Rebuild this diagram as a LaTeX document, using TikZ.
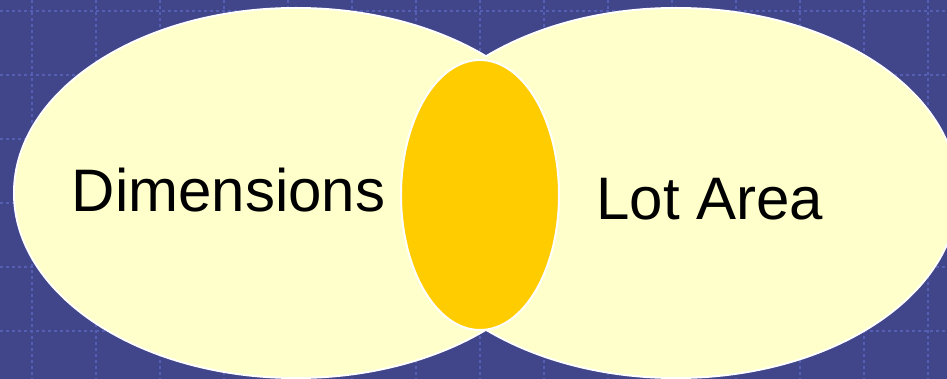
\documentclass[tikz,border=0pt]{standalone}
\usepackage{fontspec}
\setmainfont{Liberation Sans}
\definecolor{slideblue}{RGB}{65,70,138}
\definecolor{gridblue}{RGB}{84,94,178}
\definecolor{paleyellow}{RGB}{255,255,204}
\definecolor{gold}{RGB}{255,204,0}
\tikzset{
  gridline/.style={gridblue, line width=1.5pt, dash pattern=on 3pt off 3pt},
  setrim/.style={white, line width=4pt},
  setlabel/.style={font=\fontsize{60}{72}\selectfont, anchor=base, inner sep=0pt},
}

\begin{document}
\begin{tikzpicture}[x=1pt,y=-1pt]
\useasboundingbox (0,0) rectangle (947,379);
\clip (0,0) rectangle (947,379);
\fill[slideblue] (0,0) rectangle (947,379);

% dotted grid
\foreach \gx in {32,96,...,928}
  \draw[gridline] (\gx,0) -- (\gx,379);
\foreach \gy in {11,75,...,331}
  \draw[gridline] (0,\gy) -- (947,\gy);

% the two sets: white rim first, then fills on top
\draw[setrim] (296,193) ellipse [x radius=281pt, y radius=184pt];
\draw[setrim] (676,193) ellipse [x radius=281pt, y radius=184pt];
\fill[paleyellow] (296,193) ellipse [x radius=281pt, y radius=184pt];
\fill[paleyellow] (676,193) ellipse [x radius=281pt, y radius=184pt];

% overlap
\filldraw[fill=gold, draw=white, line width=2pt] (480,195) ellipse [x radius=79pt, y radius=135pt];

\node[setlabel] (dims) at (228.5,212) {Dimensions};
\node[setlabel] (area) at (710,220) {Lot Area};
\end{tikzpicture}
\end{document}
